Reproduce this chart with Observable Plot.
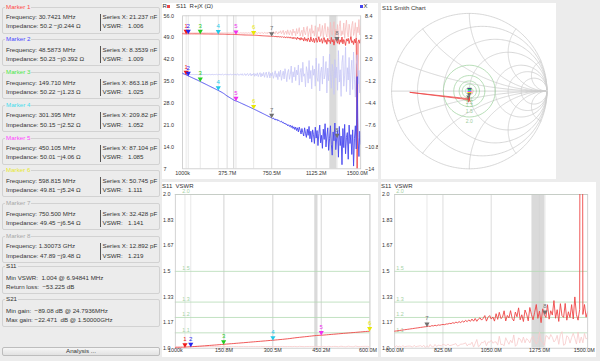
<!DOCTYPE html>
<html>
<head>
<meta charset="utf-8">
<script src="https://cdn.jsdelivr.net/npm/d3@7"></script>
<script src="https://cdn.jsdelivr.net/npm/@observablehq/plot@0.6"></script>
<style>
  html, body { margin:0; padding:0; width:600px; height:361px; overflow:hidden; background:#ececec; font-family:"Liberation Sans", Arial, sans-serif; }
  .txt { position:absolute; font-size:6px; line-height:6px; color:#333; white-space:pre; }
  .box { position:absolute; border:1px solid #d2d2d2; border-radius:2px; box-sizing:border-box; }
  .chart { position:absolute; background:#fff; overflow:hidden; }
  .chart svg { position:absolute; left:0; top:0; display:block; }
  .sq { position:absolute; width:3px; height:3px; }
</style>
</head>
<body>
<div id="root"></div>
<script>
// ================= DATA =================
const sweepStartMHz = 1;
const sweepStopMHz = 1500;

// S11 resistance (ohm), one value per sweep point
const resistanceOhm = [
50.26,50.24,50.22,50.21,50.20,50.21,50.23,50.23,50.22,50.22,
50.23,50.22,50.22,50.23,50.22,50.21,50.22,50.22,50.22,50.22,
50.22,50.21,50.21,50.20,50.20,50.19,50.19,50.18,50.18,50.18,
50.17,50.17,50.17,50.16,50.16,50.16,50.15,50.15,50.15,50.15,
50.15,50.14,50.13,50.12,50.12,50.11,50.10,50.09,50.08,50.07,
50.07,50.06,50.05,50.05,50.04,50.03,50.03,50.02,50.02,50.01,
50.01,49.99,49.98,49.96,49.95,49.93,49.92,49.90,49.89,49.87,
49.86,49.85,49.84,49.84,49.83,49.83,49.82,49.82,49.81,49.81,
49.81,49.79,49.77,49.75,49.73,49.70,49.68,49.66,49.64,49.62,
49.60,49.58,49.57,49.55,49.53,49.52,49.50,49.49,49.47,49.46,
49.45,49.40,49.46,49.35,49.42,49.30,49.38,49.25,49.36,49.22,
49.31,49.15,49.34,49.05,49.28,49.12,48.95,49.30,48.98,49.20,
48.85,49.25,48.80,49.10,48.60,49.15,48.70,48.95,48.40,49.20,
48.55,48.90,48.20,49.05,48.35,48.75,47.90,49.10,48.10,48.60,
47.80,48.95,48.30,47.60,49.20,48.00,47.70,48.80,47.40,48.50,
48.90,47.50,48.20,49.30,47.60,48.10,48.70,47.20,48.40,49.00,
47.50,48.30,46.90,48.80,47.80,48.20,47.10,49.10,47.60,48.40,
46.60,48.10,48.70,47.89,47.20,48.90,46.90,48.30,47.50,49.20,
47.00,48.40,47.70,46.50,48.60,47.90,48.80,47.10,48.20,49.30,
47.40,48.00,46.80,48.50,47.30,48.90,6.60,47.60,48.30,47.20,
48.50];

// S11 reactance (ohm)
const reactanceOhm = [
-0.01,-0.07,-0.13,-0.19,-0.25,-0.31,-0.38,-0.44,-0.50,-0.56,
-0.62,-0.68,-0.74,-0.80,-0.86,-0.92,-0.98,-1.04,-1.11,-1.17,
-1.24,-1.30,-1.37,-1.43,-1.49,-1.56,-1.62,-1.69,-1.75,-1.82,
-1.88,-1.95,-2.01,-2.08,-2.14,-2.20,-2.27,-2.33,-2.40,-2.46,
-2.52,-2.59,-2.66,-2.73,-2.80,-2.88,-2.96,-3.05,-3.15,-3.25,
-3.34,-3.42,-3.50,-3.58,-3.66,-3.74,-3.82,-3.90,-3.98,-4.03,
-4.06,-4.11,-4.17,-4.23,-4.29,-4.35,-4.41,-4.47,-4.53,-4.59,
-4.65,-4.71,-4.77,-4.83,-4.89,-4.95,-5.01,-5.07,-5.13,-5.19,
-5.25,-5.31,-5.38,-5.44,-5.51,-5.57,-5.64,-5.70,-5.77,-5.83,
-5.90,-5.96,-6.03,-6.09,-6.16,-6.22,-6.29,-6.35,-6.42,-6.48,
-6.54,-6.65,-6.56,-6.78,-6.70,-6.88,-6.75,-6.98,-6.90,-7.02,
-7.10,-7.02,-7.25,-7.18,-7.40,-7.30,-7.52,-7.45,-7.70,-7.55,
-7.80,-7.62,-7.95,-7.70,-8.10,-7.85,-8.25,-7.90,-8.40,-8.00,
-8.60,-7.90,-8.35,-8.90,-8.10,-8.70,-9.20,-8.00,-8.80,-9.40,
-8.20,-9.10,-7.80,-9.60,-8.50,-10.10,-8.30,-9.00,-10.30,-7.90,
-9.50,-8.40,-10.60,-8.80,-7.60,-10.20,-9.10,-11.00,-8.20,-9.70,
-7.40,-10.80,-9.20,-8.00,-11.30,-9.60,-7.70,-10.40,-12.00,-8.60,
-9.90,-7.30,-11.20,-9.48,-8.40,-12.30,-7.80,-10.60,-9.20,-13.40,
-8.10,-10.90,-7.50,-11.80,-9.40,-8.70,-12.60,-7.60,-10.30,-9.00,
-11.90,-8.30,-13.60,-9.60,-7.70,-11.10,-0.50,-9.40,-12.20,-8.50,
-10.40];

// reference trace, resistance (ohm)
const refResistanceOhm = [
50.55,50.52,50.50,50.49,50.50,50.51,50.50,50.49,50.50,50.50,
50.50,50.51,50.49,50.50,50.50,50.48,50.50,50.51,50.49,50.50,
50.49,50.50,50.52,50.48,50.50,50.51,50.49,50.50,50.52,50.48,
50.50,50.49,50.51,50.50,50.48,50.52,50.50,50.49,50.51,50.50,
50.48,50.52,50.50,50.47,50.53,50.50,50.48,50.52,50.49,50.51,
50.47,50.53,50.50,50.46,50.54,50.49,50.52,50.47,50.53,50.50,
50.45,50.55,50.48,50.52,50.44,50.56,50.50,50.46,50.55,50.49,
50.43,50.57,50.50,50.45,50.58,50.47,50.53,50.42,50.59,50.50,
50.40,50.62,50.48,50.55,50.38,50.65,50.45,50.58,50.35,50.68,
50.50,50.30,50.72,50.45,50.60,50.25,50.78,50.40,50.65,50.20,
50.70,50.30,50.95,50.45,50.20,51.05,50.55,50.15,50.85,50.60,
51.20,50.25,50.75,51.35,49.95,50.65,51.10,50.05,51.50,50.40,
49.90,51.30,50.80,49.70,51.75,50.50,51.05,49.60,51.90,50.25,
50.95,52.20,49.55,50.60,51.40,49.35,52.40,50.80,49.90,51.70,
52.60,49.30,50.70,51.90,49.10,53.10,50.40,51.20,49.50,52.80,
50.10,48.90,52.30,51.00,53.40,49.40,50.80,52.90,48.70,51.60,
53.60,50.30,49.20,52.50,51.30,48.60,53.90,50.90,49.80,52.20,
54.10,49.00,51.70,50.20,53.20,48.50,52.60,54.40,49.60,51.20,
50.00,53.70,48.80,52.10,54.60,50.50,49.20,53.30,51.40,48.40,
52.90,54.20,49.70,51.00,53.80,48.90,52.40,50.60,54.80,49.90,
52.70];

// reference trace, reactance (ohm)
const refReactanceOhm = [
-0.18,-0.20,-0.21,-0.20,-0.19,-0.21,-0.20,-0.22,-0.20,-0.19,
-0.21,-0.20,-0.19,-0.22,-0.20,-0.21,-0.19,-0.20,-0.22,-0.20,
-0.19,-0.22,-0.20,-0.18,-0.23,-0.20,-0.21,-0.18,-0.22,-0.20,
-0.17,-0.23,-0.20,-0.21,-0.17,-0.24,-0.19,-0.21,-0.16,-0.24,
-0.20,-0.15,-0.25,-0.19,-0.22,-0.14,-0.26,-0.20,-0.16,-0.25,
-0.13,-0.27,-0.19,-0.22,-0.12,-0.28,-0.20,-0.15,-0.27,-0.11,
-0.30,-0.18,-0.10,-0.31,-0.22,-0.12,-0.29,-0.08,-0.33,-0.19,
-0.07,-0.35,-0.15,-0.05,-0.36,-0.22,-0.02,-0.40,-0.12,-0.30,
0.00,-0.45,-0.10,-0.35,0.05,-0.50,-0.15,0.08,-0.55,-0.05,
-0.40,0.12,-0.60,-0.10,0.15,-0.65,-0.25,0.20,-0.70,0.00,
-0.40,0.10,-0.75,-0.20,0.35,-0.60,-0.05,-0.95,0.25,-0.50,
0.45,-1.05,-0.30,0.30,-0.85,0.65,-0.20,-1.25,0.15,0.55,
-0.90,-0.15,1.05,-1.40,0.20,-0.55,0.85,-1.10,0.45,-0.25,
1.20,-1.75,0.05,0.70,-1.30,1.60,-0.45,-0.10,-2.00,0.95,
0.25,-1.45,1.85,-0.80,0.40,-2.30,1.10,-0.30,0.60,-1.90,
2.20,-0.60,-1.20,1.40,-2.60,0.15,0.90,-1.60,2.50,-0.85,
-0.20,1.70,-2.90,0.75,-1.10,2.80,-0.40,-2.20,1.30,0.35,
-3.10,2.00,-0.70,0.90,-2.50,3.30,-1.30,0.50,-3.40,1.60,
2.60,-1.90,-0.30,3.80,-2.70,0.80,-1.00,2.30,-3.20,0.10,
1.90,-2.40,3.10,-0.90,-3.50,1.20,2.70,-1.60,0.40,-2.90,
2.20];

// markers
const markerNames = ["Marker 1","Marker 2","Marker 3","Marker 4","Marker 5","Marker 6","Marker 7","Marker 8"];
const markerLabels = ["1","2","3","4","5","6","7","8"];
const markerFreqMHz = [30.7421, 48.5873, 149.710, 301.395, 450.105, 598.815, 750.500, 1300.73];
const markerFreqText = ["30.7421 MHz","48.5873 MHz","149.710 MHz","301.395 MHz","450.105 MHz","598.815 MHz","750.500 MHz","1.30073 GHz"];
const markerR = [50.2, 50.23, 50.22, 50.15, 50.01, 49.81, 49.45, 47.89];
const markerX = [-0.244, -0.392, -1.23, -2.52, -4.06, -5.24, -6.54, -9.48];
const markerImpedanceText = ["50.2 −j0.244 Ω","50.23 −j0.392 Ω","50.22 −j1.23 Ω","50.15 −j2.52 Ω","50.01 −j4.06 Ω","49.81 −j5.24 Ω","49.45 −j6.54 Ω","47.89 −j9.48 Ω"];
const markerSeriesText = ["21.237 nF","8.3539 nF","863.18 pF","209.82 pF","87.104 pF","50.745 pF","32.428 pF","12.892 pF"];
const markerVswr = [1.006, 1.009, 1.025, 1.052, 1.085, 1.111, 1.141, 1.219];
const markerVswrText = ["1.006","1.009","1.025","1.052","1.085","1.111","1.141","1.219"];
const markerTitleColors = ["#ff4a4a","#4a4aff","#4ae84a","#44dcec","#ff44ff","#e8e830","#a8a8a8","#a8a8a8"];
const markerColors = ["#f01818","#2424f0","#22cc22","#22c8e8","#f030f0","#e8e800","#707070","#707070"];

// summary texts
const s11Lines = ["Min VSWR:  1.004 @ 6.94841 MHz", "Return loss:  −53.225 dB"];
const s21Lines = ["Min gain:  −89.08 dB @ 24.7936MHz", "Max gain: −22.471  dB @ 1.50000GHz"];

// highlighted bands (MHz)
const bandLoMHz = [430, 1240];
const bandHiMHz = [440, 1300];

// axis ticks
const topXTicks = [1, 375.75, 750.5, 1125.25, 1500];
const topXTickLabels = ["1000k","375.7M","750.5M","1125.2M","1500.0M"];
const rTicks = [56, 49, 42, 35, 28, 21, 14, 7];
const rTickLabels = ["56.0","49.0","42.0","35.0","28.0","21.0","14.0","7"];
const xTicks = [8.4, 5.2, 2.0, -1.2, -4.4, -7.6, -10.8, -14];
const xTickLabels = ["8.4","5.2","2.0","−1.2","−4.4","−7.6","−10.8","−14"];
const midXTicks = [1, 150.75, 300.5, 450.25, 600];
const midXTickLabels = ["1000k","150.8M","300.5M","450.2M","600.0M"];
const rightXTicks = [600, 825, 1050, 1275, 1500];
const rightXTickLabels = ["600.0M","825.0M","1050.0M","1275.0M","1500.0M"];
const vswrTicks = [2.0, 1.833, 1.667, 1.5, 1.333, 1.167, 1.0];
const vswrTickLabels = ["2.0","1.83","1.67","1.5","1.33","1.17","1.0"];
const vswrGuides = [2.0, 1.5, 1.3, 1.2, 1.1];
const vswrGuideLabels = ["2.0","1.5","1.3","1.2","1.1"];
const smithResistances = [0.2, 0.5, 1, 2, 3, 5];
const smithReactances = [0.2, 0.5, 1, 2, 5];

// ================= DERIVED =================
const Z0 = 50;
function gamma(r, x) {
  const zr = r / Z0, zi = x / Z0;
  const d = (zr + 1) ** 2 + zi * zi;
  return [(zr * zr - 1 + zi * zi) / d, 2 * zi / d];
}
function vswrOf(g) { const m = Math.hypot(g[0], g[1]); return (1 + m) / (1 - m); }
const nPts = resistanceOhm.length;
const stepMHz = (sweepStopMHz - sweepStartMHz) / (nPts - 1);
const rows = resistanceOhm.map((r, i) => {
  const g = gamma(r, reactanceOhm[i]);
  const gr = gamma(refResistanceOhm[i], refReactanceOhm[i]);
  return { f: sweepStartMHz + i * stepMHz, r, x: reactanceOhm[i], rr: refResistanceOhm[i], xr: refReactanceOhm[i],
           gx: g[0], gy: g[1], rgx: gr[0], rgy: gr[1], s: vswrOf(g), rs: vswrOf(gr) };
});
const markers = markerFreqMHz.map((f, i) => {
  const g = gamma(markerR[i], markerX[i]);
  return { f, r: markerR[i], x: markerX[i], s: markerVswr[i], gx: g[0], gy: g[1], label: markerLabels[i], color: markerColors[i] };
});
const bands = bandLoMHz.map((lo, i) => ({ lo, hi: bandHiMHz[i] }));

// ================= LAYOUT HELPERS =================
const root = document.getElementById("root");
function el(tag, cls, css, text) {
  const e = document.createElement(tag);
  if (cls) e.className = cls;
  Object.assign(e.style, css);
  if (text != null) e.textContent = text;
  root.appendChild(e);
  return e;
}
function txt(x, yc, s, color, size) {
  const fs = size || 6.2;
  return el("div", "txt", { left: x + "px", top: (yc - fs / 2) + "px", color: color || "#333", fontSize: fs + "px", lineHeight: fs + "px" }, s);
}

// ================= LEFT PANEL =================
markerNames.forEach((name, k) => {
  const t = 6.7 + 32.75 * k;
  el("div", "box", { left: "2px", top: t + "px", width: "158px", height: "27px" });
  const title = txt(5, t, name, markerTitleColors[k]);
  title.style.background = "#ececec"; title.style.padding = "0 1px";
  txt(6, t + 10.5, "Frequency: " + markerFreqText[k]);
  txt(6, t + 19.8, "Impedance: " + markerImpedanceText[k]);
  el("div", null, { position: "absolute", left: "99.5px", top: (t + 7) + "px", width: "0.8px", height: "17px", background: "#555" });
  txt(102.5, t + 10.5, "Series X: " + markerSeriesText[k]);
  txt(102.5, t + 19.8, "VSWR:");
  txt(128, t + 19.8, markerVswrText[k]);
});
[["S11", s11Lines, 265.7], ["S21", s21Lines, 299]].forEach(([name, lines, t]) => {
  el("div", "box", { left: "2px", top: t + "px", width: "158px", height: "28px" });
  const title = txt(5, t, name);
  title.style.background = "#ececec"; title.style.padding = "0 1px";
  txt(6, t + 12.3, lines[0]);
  txt(6, t + 21.5, lines[1]);
});
el("div", null, { position: "absolute", left: "2px", top: "346.5px", width: "158px", height: "9px", boxSizing: "border-box",
  border: "1px solid #bdbdbd", borderRadius: "2px", background: "linear-gradient(#f6f6f6,#e2e2e2)" });
txt(66, 351, "Analysis ...");

// ================= CHART HELPERS =================
const font = { fontFamily: "Liberation Sans, Arial, sans-serif", fontSize: "5.4px", color: "#333", overflow: "visible" };
function wrap(left, top, w, h) {
  return el("div", "chart", { left: left + "px", top: top + "px", width: w + "px", height: h + "px" });
}
const gridStroke = "#d4d4d4";
const bandFill = "#dadada";
function xTickMarks(ticks, labels, dy) {
  const n = ticks.length;
  return [
    Plot.text(ticks.slice(0, n - 1), { x: d => d, text: (d, i) => labels[i], frameAnchor: "bottom", dy, fill: "#333" }),
    Plot.text(ticks.slice(n - 1), { x: d => d, text: () => labels[n - 1], frameAnchor: "bottom", textAnchor: "end", dx: 7, dy, fill: "#333" })
  ];
}

// ================= TOP: R + jX =================
{
  const W = 216, H = 176, mL = 20.1, mR = 17.8, mT = 12.3, mB = 10.7;
  const w = wrap(161.5, 3, W, H);
  const common = { width: W, height: H, marginLeft: mL, marginRight: mR, marginTop: mT, marginBottom: mB,
    x: { type: "linear", domain: [1, 1500], axis: null }, color: { type: "identity" } };
  const pR = Plot.plot({ ...common, y: { domain: [7, 56], axis: null }, style: { ...font, background: "transparent" },
    marks: [
      Plot.rect(bands, { x1: "lo", x2: "hi", y1: () => 7, y2: () => 56, fill: bandFill }),
      Plot.ruleX(topXTicks.slice(1, -1), { stroke: gridStroke, strokeWidth: 0.8 }),
      Plot.ruleX(markerFreqMHz, { stroke: "#dedede", strokeWidth: 0.7 }),
      Plot.frame({ stroke: "#c8c8c8", strokeWidth: 0.8 }),
      Plot.line(rows, { x: "f", y: "rr", stroke: "#f6bcbc", strokeWidth: 0.8, clip: true }),
      Plot.line(rows, { x: "f", y: "r", stroke: "#ee4646", strokeWidth: 0.9, clip: true }),
      Plot.dot(markers, { x: "f", y: "r", symbol: "triangle", rotate: 180, r: 1.9, fill: "color", dy: -2.6 }),
      Plot.text(markers, { x: "f", y: "r", text: "label", fill: "color", dy: -8, fontSize: 6 }),
      Plot.text(rTicks, { y: d => d, text: (d, i) => rTickLabels[i], frameAnchor: "left", textAnchor: "start", dx: -mL + 1, fill: "#333" }),
      ...xTickMarks(topXTicks, topXTickLabels, 5.7)
    ]});
  const pX = Plot.plot({ ...common, y: { domain: [-14, 8.4], axis: null }, style: { ...font, background: "transparent" },
    marks: [
      Plot.line(rows, { x: "f", y: "xr", stroke: "#c6c6f6", strokeWidth: 0.8, clip: true }),
      Plot.line(rows, { x: "f", y: "x", stroke: "#4646ee", strokeWidth: 0.9, clip: true }),
      Plot.dot(markers, { x: "f", y: "x", symbol: "triangle", rotate: 180, r: 1.9, fill: "color", dy: -2.6 }),
      Plot.text(markers, { x: "f", y: "x", text: "label", fill: "color", dy: -8, fontSize: 6 }),
      Plot.text(xTicks, { y: d => d, text: (d, i) => xTickLabels[i], frameAnchor: "right", textAnchor: "start", dx: 4.3, fill: "#333" })
    ]});
  w.appendChild(pR); w.appendChild(pX);
  txt(162.5, 6, "R", "#333", 6);
  el("div", "sq", { left: "166.5px", top: "4.5px", background: "#ee4646" });
  txt(176, 6, "S11  R+jX (Ω)", "#333", 6);
  el("div", "sq", { left: "359.5px", top: "4.5px", background: "#4646ee" });
  txt(363.5, 6, "X", "#333", 6);
}

// ================= SMITH CHART =================
{
  const W = 175.5, H = 175.5;
  const w = wrap(380.5, 3, W, H);
  const grid = [];
  let id = 0;
  [0, ...smithResistances].forEach(rn => {
    id++;
    for (let t = -89.8; t <= 89.8; t += 0.6) {
      const g = gamma(rn * Z0, Math.tan(t * Math.PI / 180) * Z0);
      grid.push({ id, gx: g[0], gy: g[1] });
    }
  });
  smithReactances.forEach(xn => [xn, -xn].forEach(xv => {
    id++;
    for (let t = 0; t <= 89.8; t += 0.6) {
      const g = gamma(Math.tan(t * Math.PI / 180) * Z0, xv * Z0);
      grid.push({ id, gx: g[0], gy: g[1] });
    }
  }));
  const circles = [];
  vswrGuides.forEach((s, k) => {
    const m = (s - 1) / (s + 1);
    for (let a = 0; a <= 360; a += 6) circles.push({ id: k, gx: m * Math.cos(a * Math.PI / 180), gy: m * Math.sin(a * Math.PI / 180) });
  });
  const p = Plot.plot({ width: W, height: H, marginLeft: 10.1, marginRight: 10, marginTop: 9.9, marginBottom: 10.2,
    x: { domain: [-1, 1], axis: null }, y: { domain: [-1, 1], axis: null }, color: { type: "identity" },
    style: { ...font, background: "transparent" },
    marks: [
      Plot.line(grid, { x: "gx", y: "gy", z: "id", stroke: "#cdcdcd", strokeWidth: 0.8 }),
      Plot.ruleY([0], { x1: () => -1, x2: () => 1, stroke: "#cdcdcd", strokeWidth: 0.8 }),
      Plot.line(circles, { x: "gx", y: "gy", z: "id", stroke: "#a6d6a6", strokeWidth: 0.8 }),
      Plot.line(rows, { x: "rgx", y: "rgy", stroke: "#f6c0c0", strokeWidth: 0.8 }),
      Plot.line(rows, { x: "gx", y: "gy", stroke: "#ee4646", strokeWidth: 0.8 }),
      Plot.dot(markers, { x: "gx", y: "gy", symbol: "triangle", rotate: 180, r: 1.6, fill: "color", dy: -2 }),
      Plot.text(vswrGuides, { x: () => 0, y: d => -(d - 1) / (d + 1), text: (d, i) => vswrGuideLabels[i], dy: 4.3, fill: "#9ccc9c", fontSize: 5 })
    ]});
  w.appendChild(p);
  txt(382, 8.3, "S11 Smith Chart", "#333", 6);
}

// ================= VSWR charts =================
function vswrChart(left, W, mL, mR, domain, ticks, tickLabels, guideDx, data, mks) {
  const H = 175, mT = 12, mB = 9.3;
  const w = wrap(left, 182, W, H);
  const p = Plot.plot({ width: W, height: H, marginLeft: mL, marginRight: mR, marginTop: mT, marginBottom: mB,
    x: { domain, axis: null }, y: { domain: [1, 2], axis: null }, color: { type: "identity" },
    style: { ...font, background: "transparent" },
    marks: [
      Plot.rect(bands, { x1: "lo", x2: "hi", y1: () => 1, y2: () => 2, fill: bandFill, clip: true }),
      Plot.ruleX(ticks.slice(1, -1), { stroke: gridStroke, strokeWidth: 0.8 }),
      Plot.ruleX(mks.map(d => d.f), { stroke: "#dedede", strokeWidth: 0.7 }),
      Plot.ruleY(vswrGuides, { stroke: "#b4dab4", strokeWidth: 0.8 }),
      Plot.text(vswrGuides, { y: d => d, text: (d, i) => vswrGuideLabels[i], frameAnchor: "left", textAnchor: "start", dx: guideDx, dy: -3, fill: "#a4d2a4" }),
      Plot.frame({ stroke: "#c8c8c8", strokeWidth: 0.8 }),
      Plot.line(data, { x: "f", y: "rs", stroke: "#f8caca", strokeWidth: 0.8, clip: true }),
      Plot.line(data, { x: "f", y: "s", stroke: "#ee4646", strokeWidth: 0.9, clip: true }),
      Plot.dot(mks, { x: "f", y: "s", symbol: "triangle", rotate: 180, r: 1.9, fill: "color", dy: -2.6 }),
      Plot.text(mks, { x: "f", y: "s", text: "label", fill: "color", dy: -8, fontSize: 6 }),
      Plot.text(vswrTicks, { y: d => d, text: (d, i) => vswrTickLabels[i], frameAnchor: "left", textAnchor: "start", dx: -mL + 0.5, fill: "#333" }),
      ...xTickMarks(ticks, tickLabels, 4)
    ]});
  w.appendChild(p);
  txt(left + 0.5, 186, "S11  VSWR", "#333", 6);
}
vswrChart(161.5, 216, 12.8, 8.5, [1, 600], midXTicks, midXTickLabels, 7,
  rows.filter(d => d.f <= 610), markers.filter(d => d.f <= 600));
vswrChart(380.5, 215.5, 13.2, 9.3, [600, 1500], rightXTicks, rightXTickLabels, 1.5,
  rows.filter(d => d.f >= 590), markers.filter(d => d.f > 600));
</script>
</body>
</html>
